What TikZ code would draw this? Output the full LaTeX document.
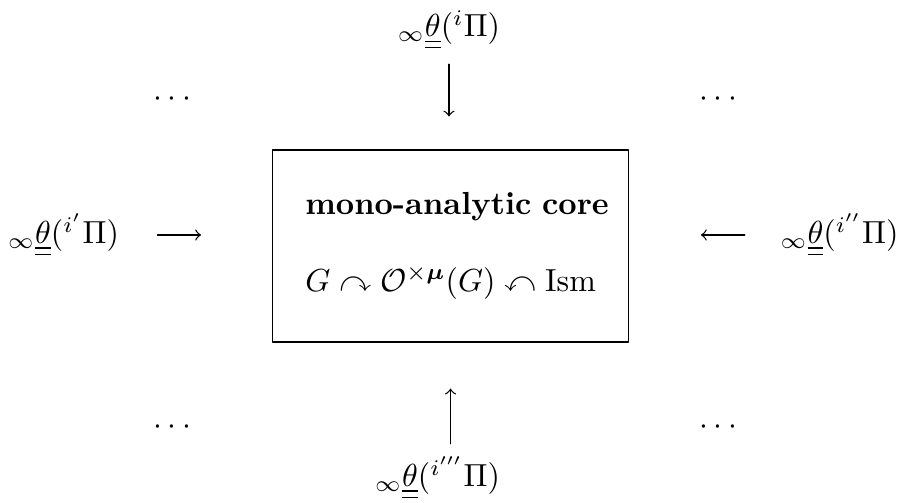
\documentclass[tikz,border=0pt]{standalone}
\usepackage{amsmath,amssymb}
\usepackage{bm}
\usetikzlibrary{calc}

\begin{document}
\begin{tikzpicture}[x=0.3135pt, y=-0.3135pt, line cap=round, line join=round, >=to,
    lbl/.style={inner sep=0pt},
    corebox/.style={draw, thin, inner xsep=10.2pt, inner ysep=0pt, text width=91pt,
      align=left, minimum height=60.2pt}]
  \useasboundingbox (0,0) rectangle (899,503);

  % Central box
  \node[corebox] (core) at (450.5,246)
    {\mbox{\textbf{mono-analytic core}}\\[12pt]
     \mbox{$G \curvearrowright \mathcal{O}^{\times\bm{\mu}}(G) \curvearrowleft \mathrm{Ism}$}};

  % Theta labels around the core
  \node[lbl] (top) at (449,30) {${}_{\infty}\underline{\underline{\theta}}({}^{i}\Pi)$};
  \node[lbl] (left) at (63.5,235) {${}_{\infty}\underline{\underline{\theta}}({}^{i'}\Pi)$};
  \node[lbl] (right) at (839.5,235) {${}_{\infty}\underline{\underline{\theta}}({}^{i''}\Pi)$};
  \node[lbl] (bottom) at (437.5,478) {${}_{\infty}\underline{\underline{\theta}}({}^{i'''}\Pi)$};

  % Dots in the corners
  \node[lbl] (dotsTL) at (175,99) {$\cdots$};
  \node[lbl] (dotsTR) at (721,99) {$\cdots$};
  \node[lbl] (dotsBL) at (175,427) {$\cdots$};
  \node[lbl] (dotsBR) at (721,427) {$\cdots$};

  % Arrows into the core
  \draw[->, shorten <=4.4pt, shorten >=10.3pt] (top.south) -- (top.south |- core.north);
  \draw[->, shorten <=11.9pt, shorten >=22.3pt] (left.east) -- (left.east -| core.west);
  \draw[->, shorten <=11pt, shorten >=22.6pt] (right.west) -- (right.west -| core.east);
  \draw[->, shorten <=3.8pt, shorten >=14.4pt] (bottom.north -| core.south) -- (core.south);
\end{tikzpicture}
\end{document}
